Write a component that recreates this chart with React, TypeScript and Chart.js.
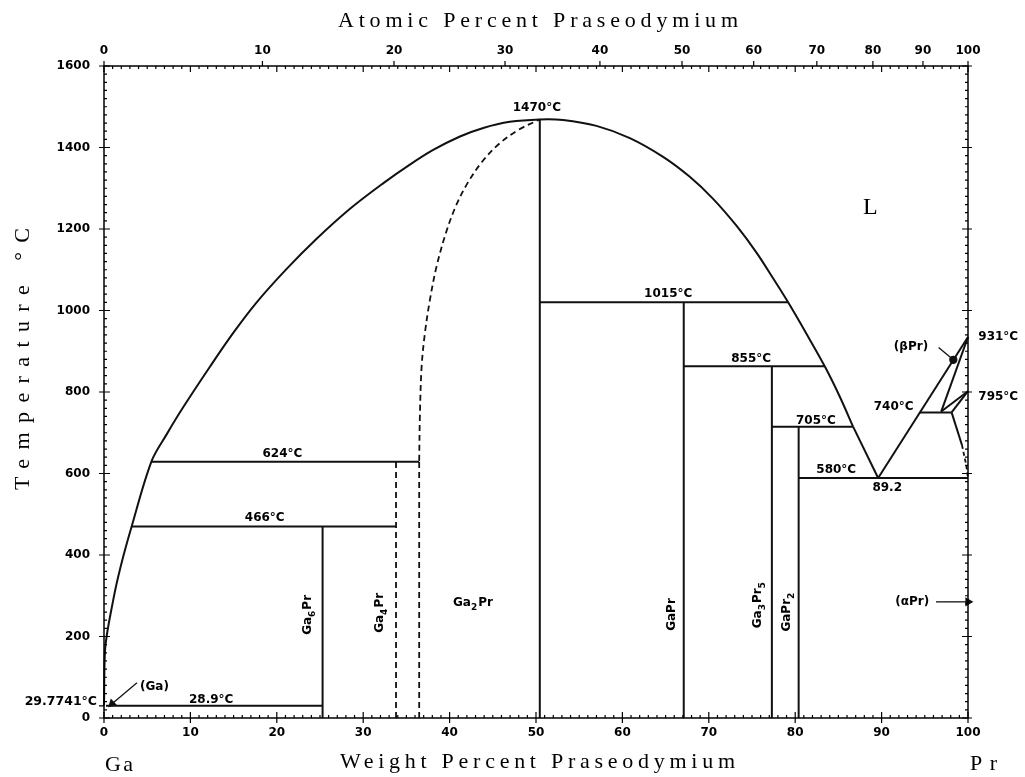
import React, { useEffect, useRef } from "react";
import { Chart, registerables } from "chart.js";

Chart.register(...registerables);

type Pt = [number, number];

// ---- axes ----
const WT_MIN = 0;
const WT_MAX = 100;
const TEMP_MIN = 0;
const TEMP_MAX = 1600;
const WT_LABEL_STEP = 10;
const TEMP_LABEL_STEP = 200;
const ATOMIC_TICKS = [0, 10, 20, 30, 40, 50, 60, 70, 80, 90, 100];
const GA_MASS = 69.723;
const PR_MASS = 140.908;
const GA_MELT_LABEL = "29.7741°C";
const GA_MELT = 29.7741;

// ---- phase boundaries (wt% Pr, °C) ----
const LIQUIDUS_DOME: Pt[] = [
  [0, 29.8], [0.12, 168], [1.07, 290], [1.93, 372], [3.2, 470],
  [5.52, 631], [7.25, 696], [9.18, 763], [12.26, 862], [14.96, 945],
  [17.67, 1020], [21.14, 1102], [24.61, 1176], [28.44, 1249], [32.3, 1312],
  [35.4, 1358], [38.1, 1394], [41.2, 1427], [43.9, 1448], [46.97, 1463],
  [50.44, 1469], [53.14, 1467.5], [57.0, 1453], [60.86, 1423], [64.71, 1377],
  [67.8, 1328], [70.5, 1274], [73.2, 1208], [75.52, 1142], [77.44, 1079],
  [79.18, 1020], [81.3, 943], [83.42, 863], [85.15, 789], [86.7, 715],
];
const LIQUIDUS_EUTECTIC: Pt[] = [[86.7, 715], [89.6, 589]];
const LIQUIDUS_PR_SIDE: Pt[] = [[89.6, 589], [100, 935]];
const GA2PR_LEFT_DASHED: Pt[] = [
  [36.48, 631], [36.56, 740], [36.76, 862], [37.14, 944], [37.72, 1026],
  [38.49, 1108], [39.57, 1190], [40.7, 1255], [42.06, 1312], [43.76, 1365],
  [45.78, 1410], [47.94, 1443], [50.44, 1469],
];
const GA2PR_LEFT_VERTICAL: Pt[] = [[36.48, 0], [36.48, 631]];
const GA4PR_LINE: Pt[] = [[33.8, 0], [33.8, 629]];
const GA6PR_LINE: Pt[] = [[25.3, 0], [25.3, 470]];
const GA2PR_LINE: Pt[] = [[50.44, 0], [50.44, 1469]];
const GAPR_LINE: Pt[] = [[67.1, 0], [67.1, 1020]];
const GA3PR5_LINE: Pt[] = [[77.3, 0], [77.3, 863]];
const GAPR2_LINE: Pt[] = [[80.4, 0], [80.4, 715]];

const ISO_1015: Pt[] = [[50.44, 1020], [79.18, 1020]];
const ISO_855: Pt[] = [[67.1, 863], [83.42, 863]];
const ISO_705: Pt[] = [[77.3, 715], [86.7, 715]];
const ISO_580: Pt[] = [[80.4, 589], [100, 589]];
const ISO_624: Pt[] = [[5.52, 629], [36.48, 629]];
const ISO_466: Pt[] = [[3.2, 470], [33.8, 470]];
const ISO_289: Pt[] = [[0.23, 30], [25.3, 30]];
const ISO_740: Pt[] = [[94.4, 750], [98.1, 750]];

const BETA_SOLIDUS: Pt[] = [[96.9, 752], [100, 935]];
const BETA_ALPHA_A: Pt[] = [[96.9, 752], [100, 802]];
const BETA_ALPHA_B: Pt[] = [[98.1, 750], [100, 802]];
const ALPHA_SOLVUS: Pt[] = [[98.1, 750], [99.3, 670]];
const ALPHA_SOLVUS_DASHED: Pt[] = [[99.3, 670], [99.8, 620], [100, 589]];

const BETA_LEADER: Pt[] = [[96.6, 909], [98.3, 879]];
const GA_ARROW: Pt[] = [[3.82, 86.6], [0.93, 35]];
const ALPHA_ARROW: Pt[] = [[96.3, 285], [100, 285]];

// ---- text ----
const POINT_LABELS: [string, number, number][] = [
  ["1470°C", 50.1, 1497],
  ["1015°C", 65.3, 1041],
  ["855°C", 74.9, 881],
  ["705°C", 82.4, 730],
  ["580°C", 84.75, 609],
  ["89.2", 90.65, 565],
  ["740°C", 91.4, 764],
  ["931°C", 103.5, 935],
  ["795°C", 103.5, 788],
  ["(βPr)", 93.4, 911],
  ["624°C", 20.65, 648],
  ["466°C", 18.6, 491],
  ["28.9°C", 12.4, 45],
  ["(Ga)", 5.84, 77],
  ["(αPr)", 93.55, 285],
];
const PHASE_LABELS: [string, number, number, boolean][] = [
  ["Ga_6Pr", 23.6, 253, true],
  ["Ga_4Pr", 31.9, 258, true],
  ["Ga_2Pr", 42.7, 283, false],
  ["GaPr", 65.7, 254, true],
  ["Ga_3Pr_5", 75.7, 278, true],
  ["GaPr_2", 79.0, 261, true],
];

const atomicToWeight = (a: number) =>
  (100 * a * PR_MASS) / (a * PR_MASS + (100 - a) * GA_MASS);

const toXY = (pts: Pt[]) => pts.map(([x, y]) => ({ x, y }));

const LINE = "#111";
const solid = (pts: Pt[], extra: any = {}) => ({
  data: toXY(pts),
  showLine: true,
  borderColor: LINE,
  backgroundColor: LINE,
  borderWidth: 2,
  pointRadius: 0,
  tension: 0,
  clip: false,
  ...extra,
});
const curve = (pts: Pt[], extra: any = {}) => solid(pts, { tension: 0.35, ...extra });
const dashed = (pts: Pt[], extra: any = {}) =>
  solid(pts, { borderDash: [6, 4], borderWidth: 1.8, ...extra });

const TICK_FONT = "bold 12px 'DejaVu Sans'";
const SUB_FONT = "bold 9px 'DejaVu Sans'";
const SERIF = "'Liberation Serif'";

function spacedText(
  ctx: CanvasRenderingContext2D,
  text: string,
  left: number,
  baseline: number,
  width: number,
  font: string
) {
  ctx.font = font;
  (ctx as any).letterSpacing = "0px";
  const w = ctx.measureText(text).width;
  const sp = (width - w) / Math.max(1, text.length - 1);
  (ctx as any).letterSpacing = sp + "px";
  ctx.textAlign = "left";
  ctx.textBaseline = "alphabetic";
  ctx.fillText(text, left, baseline);
  (ctx as any).letterSpacing = "0px";
}

function parseRuns(s: string): [string, boolean][] {
  const runs: [string, boolean][] = [];
  let cur = "";
  for (let i = 0; i < s.length; i++) {
    if (s[i] === "_") {
      if (cur) runs.push([cur, false]);
      cur = "";
      runs.push([s[i + 1], true]);
      i++;
    } else cur += s[i];
  }
  if (cur) runs.push([cur, false]);
  return runs;
}

const phasePlugin = {
  id: "phasePlugin",
  afterDraw(chart: any) {
    const { ctx, chartArea: a, scales } = chart;
    const x = scales.x;
    const y = scales.y;
    const x2 = scales.x2;
    const y2 = scales.y2;
    ctx.save();
    ctx.strokeStyle = "#000";
    ctx.fillStyle = "#000";
    ctx.lineWidth = 1.5;
    ctx.strokeRect(a.left, a.top, a.right - a.left, a.bottom - a.top);

    ctx.lineWidth = 1.2;
    ctx.beginPath();
    x.ticks.forEach((t: any) => {
      const p = x.getPixelForValue(t.value);
      const major = Math.round(t.value) % WT_LABEL_STEP === 0;
      ctx.moveTo(p, a.bottom - (major ? 6 : 3));
      ctx.lineTo(p, a.bottom + (major ? 5 : 0));
      ctx.moveTo(p, a.top);
      ctx.lineTo(p, a.top + (major ? 6 : 3));
    });
    x2.ticks.forEach((t: any) => {
      const p = x2.getPixelForValue(t.value);
      ctx.moveTo(p, a.top - 5);
      ctx.lineTo(p, a.top);
    });
    y.ticks.forEach((t: any) => {
      const p = y.getPixelForValue(t.value);
      const major = Math.round(t.value) % TEMP_LABEL_STEP === 0;
      ctx.moveTo(a.left - (major ? 5 : 0), p);
      ctx.lineTo(a.left + (major ? 6 : 3), p);
    });
    y2.ticks.forEach((t: any) => {
      const p = y2.getPixelForValue(t.value);
      const major = Math.round(t.value) % TEMP_LABEL_STEP === 0;
      ctx.moveTo(a.right - (major ? 6 : 3), p);
      ctx.lineTo(a.right + (major ? 4 : 0), p);
    });
    const gm = y.getPixelForValue(GA_MELT);
    ctx.moveTo(a.left - 5, gm);
    ctx.lineTo(a.left, gm);
    ctx.stroke();

    // Ga melting label
    ctx.font = "bold 12.5px 'DejaVu Sans'";
    ctx.textAlign = "right";
    ctx.textBaseline = "middle";
    ctx.fillText(GA_MELT_LABEL, a.left - 7, gm - 4);

    // point labels
    ctx.font = TICK_FONT;
    ctx.textAlign = "center";
    ctx.textBaseline = "middle";
    POINT_LABELS.forEach(([s, w, t]) => {
      ctx.fillText(s, x.getPixelForValue(w), y.getPixelForValue(t));
    });

    // phase labels
    PHASE_LABELS.forEach(([s, w, t, rot]) => {
      const runs = parseRuns(s);
      ctx.save();
      ctx.translate(x.getPixelForValue(w), y.getPixelForValue(t));
      if (rot) ctx.rotate(-Math.PI / 2);
      let total = 0;
      runs.forEach(([r, sub]) => {
        ctx.font = sub ? SUB_FONT : TICK_FONT;
        total += ctx.measureText(r).width + (sub ? 1 : 0);
      });
      let cx = -total / 2;
      ctx.textAlign = "left";
      ctx.textBaseline = "middle";
      runs.forEach(([r, sub]) => {
        ctx.font = sub ? SUB_FONT : TICK_FONT;
        ctx.fillText(r, cx, sub ? 5 : 0);
        cx += ctx.measureText(r).width + (sub ? 1 : 0);
      });
      ctx.restore();
    });

    // L
    ctx.font = `24px ${SERIF}`;
    ctx.textAlign = "center";
    ctx.textBaseline = "middle";
    ctx.fillText("L", x.getPixelForValue(88.7), y.getPixelForValue(1252));

    // titles
    const TITLE = `22px ${SERIF}`;
    spacedText(ctx, "Atomic Percent Praseodymium", 338, 27, 400, TITLE);
    spacedText(ctx, "Weight Percent Praseodymium", 340, 768, 395, TITLE);
    spacedText(ctx, "Ga", 105, 771, 28, TITLE);
    spacedText(ctx, "Pr", 970, 770, 27, TITLE);
    ctx.save();
    ctx.translate(29, 490);
    ctx.rotate(-Math.PI / 2);
    spacedText(ctx, "Temperature °C", 0, 0, 262, TITLE);
    ctx.restore();

    ctx.restore();
  },
};

export default function App() {
  const ref = useRef<HTMLCanvasElement>(null);
  useEffect(() => {
    const datasets: any[] = [
      curve(LIQUIDUS_DOME),
      solid(LIQUIDUS_EUTECTIC),
      solid(LIQUIDUS_PR_SIDE),
      dashed(GA2PR_LEFT_DASHED, { tension: 0.35 }),
      dashed(GA2PR_LEFT_VERTICAL),
      dashed(GA4PR_LINE),
      solid(GA6PR_LINE),
      solid(GA2PR_LINE),
      solid(GAPR_LINE),
      solid(GA3PR5_LINE),
      solid(GAPR2_LINE),
      solid(ISO_1015),
      solid(ISO_855),
      solid(ISO_705),
      solid(ISO_580),
      solid(ISO_624),
      solid(ISO_466),
      solid(ISO_289),
      solid(ISO_740),
      solid(BETA_SOLIDUS),
      solid(BETA_ALPHA_A),
      solid(BETA_ALPHA_B),
      solid(ALPHA_SOLVUS),
      dashed(ALPHA_SOLVUS_DASHED, { borderDash: [4, 3] }),
      solid(BETA_LEADER, {
        borderWidth: 1.3,
        pointRadius: (c: any) => (c.dataIndex === 1 ? 3.5 : 0),
      }),
      solid(GA_ARROW, {
        borderWidth: 1.3,
        pointStyle: "triangle",
        pointRotation: 227,
        pointRadius: (c: any) => (c.dataIndex === 1 ? 4 : 0),
      }),
      solid(ALPHA_ARROW, {
        borderWidth: 1.3,
        pointStyle: "triangle",
        pointRotation: 90,
        pointRadius: (c: any) => (c.dataIndex === 1 ? 4 : 0),
      }),
    ];
    const tickFont = { family: "DejaVu Sans", size: 12, weight: "bold" as const };
    const chart = new Chart(ref.current!, {
      type: "scatter",
      data: { datasets },
      options: {
        animation: false,
        responsive: true,
        maintainAspectRatio: false,
        events: [],
        layout: { padding: 0 },
        plugins: {
          legend: { display: false },
          tooltip: { enabled: false },
          title: { display: false },
        },
        scales: {
          x: {
            type: "linear",
            position: "bottom",
            min: WT_MIN,
            max: WT_MAX,
            grid: { display: false },
            border: { display: false },
            ticks: {
              stepSize: 1,
              autoSkip: false,
              maxRotation: 0,
              padding: 0,
              color: "#000",
              font: tickFont,
              callback: (v: any) => (Math.round(v) % WT_LABEL_STEP === 0 ? String(v) : ""),
            },
            afterFit: (s: any) => {
              s.height = 59;
            },
          },
          x2: {
            type: "linear",
            position: "top",
            min: WT_MIN,
            max: WT_MAX,
            grid: { display: false },
            border: { display: false },
            afterBuildTicks: (s: any) => {
              s.ticks = ATOMIC_TICKS.map((v) => ({ value: atomicToWeight(v) }));
            },
            ticks: {
              autoSkip: false,
              maxRotation: 0,
              padding: 0,
              color: "#000",
              font: tickFont,
              callback: (_v: any, i: number) => String(ATOMIC_TICKS[i]),
            },
            afterFit: (s: any) => {
              s.height = 66;
            },
          },
          y: {
            type: "linear",
            position: "left",
            min: TEMP_MIN,
            max: TEMP_MAX,
            grid: { display: false },
            border: { display: false },
            ticks: {
              stepSize: 20,
              autoSkip: false,
              padding: 6,
              color: "#000",
              font: tickFont,
              callback: (v: any) => (Math.round(v) % TEMP_LABEL_STEP === 0 ? String(v) : ""),
            },
            afterFit: (s: any) => {
              s.width = 104;
            },
          },
          y2: {
            type: "linear",
            position: "right",
            min: TEMP_MIN,
            max: TEMP_MAX,
            grid: { display: false },
            border: { display: false },
            ticks: {
              stepSize: 20,
              autoSkip: false,
              color: "#000",
              font: tickFont,
              callback: () => "",
            },
            afterFit: (s: any) => {
              s.width = 57;
            },
          },
        },
      } as any,
      plugins: [phasePlugin],
    });
    return () => chart.destroy();
  }, []);
  return (
    <div
      style={{
        position: "fixed",
        left: 0,
        top: 0,
        width: 1025,
        height: 777,
        background: "#fff",
      }}
    >
      <canvas ref={ref} />
    </div>
  );
}
